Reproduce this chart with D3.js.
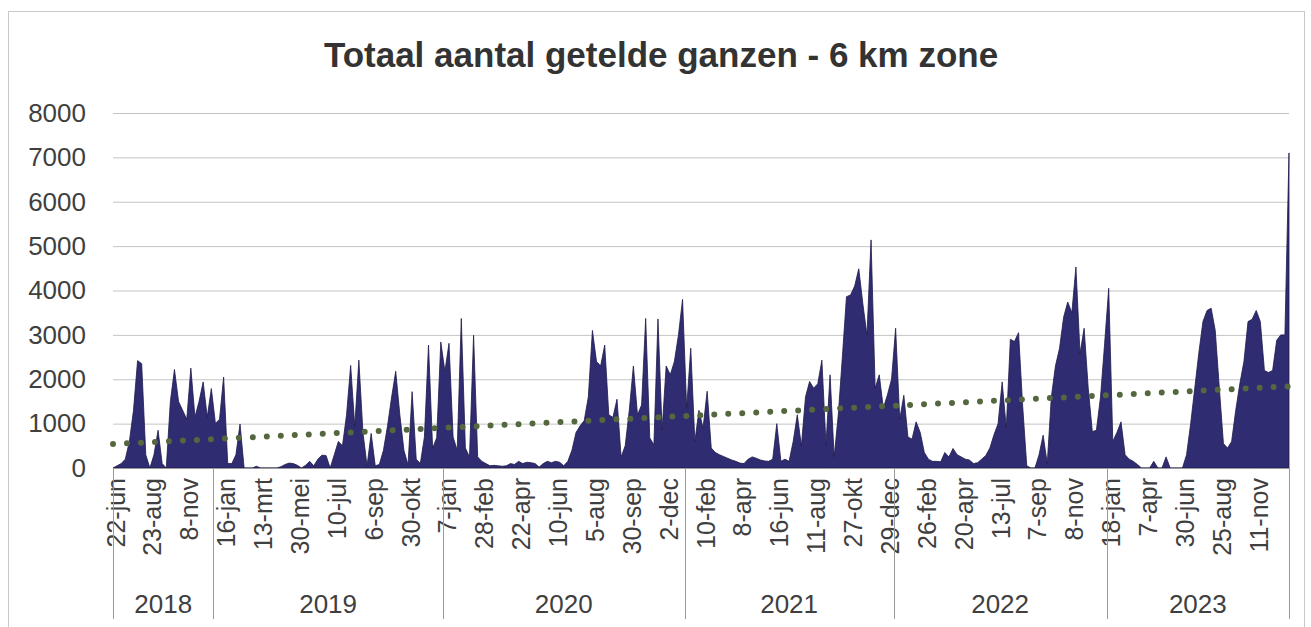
<!DOCTYPE html>
<html>
<head>
<meta charset="utf-8">
<script src="https://cdn.jsdelivr.net/npm/d3@7"></script>
<style>
  html, body { margin: 0; padding: 0; background: #fff; }
  svg { display: block; }
  text { font-family: "Liberation Sans", Arial, sans-serif; fill: #3f3f3f; }
</style>
</head>
<body>
<svg id="chart" width="1311" height="627"></svg>
<script>
// ---- Data ----
const title = "Totaal aantal getelde ganzen - 6 km zone";
const years = ["2018", "2019", "2020", "2021", "2022", "2023"];

const values2018 = [0,50,100,200,600,1300,2420,2350,300,0, 300,850,100,0,1500,2220,1500,1300,1100,2250, 1150,1500,1940,1150,1790];
const values2019 = [1000,1100,2050,100,100,300,990,0,0,0, 40,0,0,0,0,0,30,80,110,100, 60,0,60,150,50,200,290,280,0,300, 600,500,1200,2310,940,2430,800,50,780,50, 80,400,950,1600,2180,1200,400,70,1720,200, 100,700,2770,450,680,2840];
const values2020 = [2180,2810,700,400,3370,450,250,2990,250, 150,100,50,60,50,40,50,100,80,150, 100,130,120,100,20,100,150,120,150,130, 50,150,400,800,950,1070,1600,3100,2400,2300, 2770,1200,1140,1550,250,500,1300,2300,1200,1420, 3370,680,520,3360,850,2300,2100,2400,3000,3800];
const values2021 = [1350,2700,600,1300,900,1730,450,350,300,260, 220,180,150,110,100,200,250,220,180,160, 150,200,1000,150,200,150,600,1200,500,1600, 1950,1800,1900,2430,530,2100,250,1200,2500,3860, 3900,4100,4490,3700,3000,5140,1800,2100,1350,1650, 2000];
const values2022 = [3150,1100,1640,700,650,1040,800,350,200, 150,150,140,350,250,440,300,250,200,180, 100,120,200,280,450,750,1000,1940,900,2900, 2850,3050,1400,50,0,0,300,740,100,1600, 2300,2700,3400,3740,3500,4530,2580,3150,1800,820, 850,1600,2800];
const values2023 = [4050,600,800,1040,300,200,150, 80,0,0,0,150,0,0,250,0,0, 0,0,300,1000,1800,2600,3300,3550,3600,3100, 1800,550,450,600,1300,1900,2400,3300,3350,3550, 3300,2200,2150,2200,2880,3000,3000,7100];

const tickLabels = [
  "22-jun","23-aug","8-nov",
  "16-jan","13-mrt","30-mei","10-jul","6-sep","30-okt",
  "7-jan","28-feb","22-apr","10-jun","5-aug","30-sep","2-dec",
  "10-feb","8-apr","16-jun","11-aug","27-okt","29-dec",
  "26-feb","20-apr","13-jul","7-sep","8-nov",
  "18-jan","7-apr","30-jun","25-aug","11-nov"
];
const tickEvery = 9;               // a label on every 9th count
const yTicks = [0,1000,2000,3000,4000,5000,6000,7000,8000];
const trendline = [540, 1840];     // linear trend, start and end value

// ---- Build ----
const yearValues = [values2018, values2019, values2020, values2021, values2022, values2023];
const series = [];
const yearRanges = [];
yearValues.forEach((arr, k) => {
  const start = series.length;
  arr.forEach(v => series.push(v));
  yearRanges.push({ year: years[k], start: start, end: series.length - 1 });
});
const N = series.length;

const svg = d3.select("#chart");
const plotL = 113, plotR = 1289, plotT = 113, plotB = 468;

// chart frame
svg.append("rect")
  .attr("x", 8.5).attr("y", 11.5).attr("width", 1296).attr("height", 640)
  .attr("fill", "none").attr("stroke", "#c9c9c9").attr("stroke-width", 1);

const x = d3.scaleLinear().domain([0, N - 1]).range([plotL, plotR]);
const y = d3.scaleLinear().domain([0, 8000]).range([plotB, plotT]);

// title
svg.append("text")
  .attr("x", 661).attr("y", 67)
  .attr("text-anchor", "middle")
  .style("font-size", "35px").style("font-weight", "bold")
  .style("fill", "#333")
  .text(title);

// gridlines + y axis labels
const yAxis = d3.axisLeft(y).tickValues(yTicks).tickSize(-(plotR - plotL)).tickPadding(27)
  .tickFormat(d3.format("d"));
const gy = svg.append("g").attr("transform", `translate(${plotL},0)`).call(yAxis);
gy.select(".domain").remove();
gy.selectAll(".tick line").attr("stroke", "#c4c4c4").attr("stroke-width", 1);
gy.selectAll(".tick text").style("font-size", "26px").style("fill", "#3f3f3f")
  .attr("font-family", null);

// area
const area = d3.area()
  .x((d, i) => x(i))
  .y0(y(0))
  .y1(d => y(d));
svg.append("path")
  .datum(series)
  .attr("d", area)
  .attr("fill", "#302c72")
  .attr("stroke", "#1d1b4a")
  .attr("stroke-width", 0.8)
  .attr("stroke-linejoin", "miter");

// trendline (dotted)
const trendLine = d3.line().x(d => x(d[0])).y(d => y(d[1]));
svg.append("path")
  .datum([[0, trendline[0]], [N - 1, trendline[1]]])
  .attr("d", trendLine)
  .attr("fill", "none")
  .attr("stroke", "#55673f")
  .attr("stroke-width", 6)
  .attr("stroke-linecap", "round")
  .attr("stroke-dasharray", "0 14");

// x axis (category labels)
const tickIdx = tickLabels.map((_, k) => k * tickEvery);
const xAxis = d3.axisBottom(x).tickValues(tickIdx).tickSize(0)
  .tickFormat((d, k) => tickLabels[k]);
const gx = svg.append("g").attr("transform", `translate(0,${plotB})`).call(xAxis);
gx.select(".domain").attr("stroke", "#9a9a9a").attr("d", `M${plotL},0.5H${plotR}`);
gx.selectAll(".tick text")
  .attr("font-family", null)
  .style("font-size", "25px").style("fill", "#3f3f3f")
  .attr("text-anchor", "end")
  .attr("transform", "rotate(-90)")
  .attr("x", -10).attr("y", 2).attr("dy", "0.36em");

// year group separators and labels
const seps = [x(0)];
yearRanges.slice(1).forEach(r => seps.push((x(r.start - 1) + x(r.start)) / 2));
seps.push(x(N - 1));
svg.append("g").selectAll("line").data(seps).join("line")
  .attr("x1", d => Math.round(d) + 0.5).attr("x2", d => Math.round(d) + 0.5)
  .attr("y1", plotB).attr("y2", 619)
  .attr("stroke", "#9a9a9a").attr("stroke-width", 1);

svg.append("g").selectAll("text").data(yearRanges).join("text")
  .attr("x", (d, k) => (seps[k] + seps[k + 1]) / 2)
  .attr("y", 604)
  .attr("dy", "0.35em")
  .attr("text-anchor", "middle")
  .style("font-size", "26px")
  .text(d => d.year);
</script>
</body>
</html>
